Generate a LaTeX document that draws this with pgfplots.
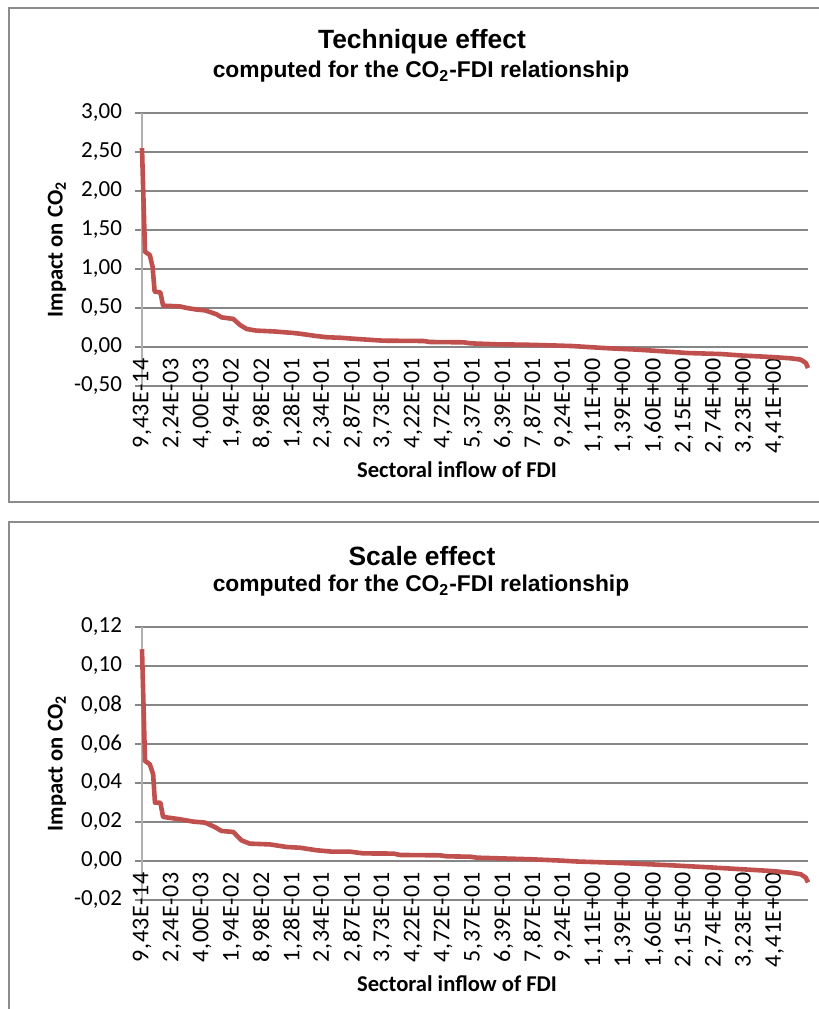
\documentclass[border=0pt]{standalone}
\usepackage{fontspec}
\setmainfont{Carlito}
\newfontfamily\arialfont{Liberation Sans}
\newfontfamily\ticksfont[LetterSpace=2.5]{Carlito}
\usepackage{pgfplots}
\pgfplotsset{compat=1.18}
\definecolor{linered}{HTML}{C0504D}
\definecolor{gridgray}{HTML}{868686}
\definecolor{axgray}{HTML}{B0B0B0}
\definecolor{boxgray}{HTML}{8C8C8C}
\pgfplotsset{
  effectaxis/.style={
    anchor=south west,
    width=333pt, height=136.5pt, scale only axis,
    xmin=0, xmax=22.11,
    axis x line*=middle, axis y line*=left,
    hide obscured x ticks=false,
    axis line style={-},
    x axis line style={draw=gridgray, line width=0.6pt},
    y axis line style={draw=axgray, line width=0.6pt},
    ymajorgrids, major grid style={draw=gridgray, line width=0.6pt},
    tick align=outside,
    ytick style={draw=gridgray, line width=0.6pt},
    major tick length=3.5pt,
    xtick style={draw=none},
    xtick={0,1,...,21},
    xticklabels={{9,43E-14},{2,24E-03},{4,00E-03},{1,94E-02},{8,98E-02},{1,28E-01},{2,34E-01},{2,87E-01},{3,73E-01},{4,22E-01},{4,72E-01},{5,37E-01},{6,39E-01},{7,87E-01},{9,24E-01},{1,11E+00},{1,39E+00},{1,60E+00},{2,15E+00},{2,74E+00},{3,23E+00},{4,41E+00}},
    xticklabel style={rotate=90, anchor=east, font=\ticksfont\fontsize{12}{14}\selectfont, inner sep=2pt},
    yticklabel style={font=\fontsize{11.5}{13}\selectfont, xshift=-3pt,
      /pgf/number format/.cd, fixed, fixed zerofill, precision=2, use comma, assume math mode=true},
    xlabel={Sectoral inflow of FDI},
    xlabel style={at={(axis description cs:0.473,-0.308)}, anchor=center, font=\bfseries\fontsize{11.3}{13}\selectfont},
    ylabel={Impact on CO\textsubscript{2}},
    ylabel style={at={(axis description cs:-0.1276,0.5)}, anchor=center, font=\bfseries\fontsize{11.3}{13}\selectfont},
    clip=false,
  }
}
\pgfplotstableread{
u v
0 2.55
0.10 1.22
0.26 1.18
0.35 1.03
0.42 0.71
0.61 0.70
0.70 0.53
1.26 0.52
1.49 0.50
1.81 0.48
2.09 0.47
2.47 0.42
2.64 0.38
3.03 0.36
3.26 0.28
3.48 0.23
3.80 0.21
4.36 0.20
5.02 0.18
5.25 0.17
5.80 0.14
6.14 0.125
6.60 0.118
7.13 0.103
8.01 0.081
9.34 0.077
9.57 0.064
10.68 0.060
10.90 0.047
11.79 0.034
12.67 0.030
13.56 0.021
14.30 0.012
15.33 -0.013
16.44 -0.034
17.33 -0.056
18.10 -0.077
19.21 -0.090
19.99 -0.111
20.87 -0.128
21.54 -0.145
21.87 -0.162
22.04 -0.205
22.11 -0.270
}\technique
\pgfplotstableread{
u v
0 0.1086
0.10 0.0513
0.26 0.0496
0.37 0.0444
0.43 0.0299
0.61 0.0299
0.70 0.0226
1.26 0.0214
1.70 0.0202
2.09 0.0197
2.42 0.0174
2.64 0.0154
3.03 0.0149
3.30 0.0106
3.58 0.0089
4.25 0.0085
4.80 0.0072
5.25 0.0068
5.80 0.0055
6.30 0.0048
6.90 0.0048
7.35 0.0039
8.35 0.0038
8.57 0.0031
9.90 0.0029
10.12 0.0024
10.90 0.0022
11.12 0.0017
11.79 0.0014
12.90 0.0009
13.78 0.0003
14.50 -0.0003
15.33 -0.0007
16.44 -0.0014
17.55 -0.0022
18.66 -0.0031
19.77 -0.0041
20.87 -0.0051
21.54 -0.0060
21.87 -0.0068
22.04 -0.0086
22.11 -0.0110
}\scale
\begin{document}
\begin{tikzpicture}
\useasboundingbox (0pt,0pt) rectangle (409.5pt,504.5pt);
\draw[boxgray, line width=0.9pt] (4.5pt,500.5pt) rectangle (420pt,253.5pt);
\draw[boxgray, line width=0.9pt] (4.5pt,243.5pt) rectangle (420pt,-10pt);
\node[font=\arialfont\bfseries\fontsize{13.2}{15}\selectfont] at (211pt,483.5pt) {Technique effect};
\node[font=\arialfont\bfseries\fontsize{11.4}{13}\selectfont] at (210.5pt,468.5pt) {computed for the CO\textsubscript{2}-FDI relationship};
\node[font=\arialfont\bfseries\fontsize{13.2}{15}\selectfont] at (211pt,226.5pt) {Scale effect};
\node[font=\arialfont\bfseries\fontsize{11.4}{13}\selectfont] at (210.5pt,211.5pt) {computed for the CO\textsubscript{2}-FDI relationship};
\begin{axis}[effectaxis, at={(71pt,311.5pt)},
  ymin=-0.5, ymax=3, ytick={-0.5,0,0.5,1,1.5,2,2.5,3}]
\addplot[linered, line width=2.3pt, line join=round, no markers] table[x=u,y=v] {\technique};
\end{axis}
\begin{axis}[effectaxis, at={(71pt,54.5pt)},
  ymin=-0.02, ymax=0.12, ytick={-0.02,0,0.02,0.04,0.06,0.08,0.1,0.12}]
\addplot[linered, line width=2.3pt, line join=round, no markers] table[x=u,y=v] {\scale};
\end{axis}
\end{tikzpicture}
\end{document}
